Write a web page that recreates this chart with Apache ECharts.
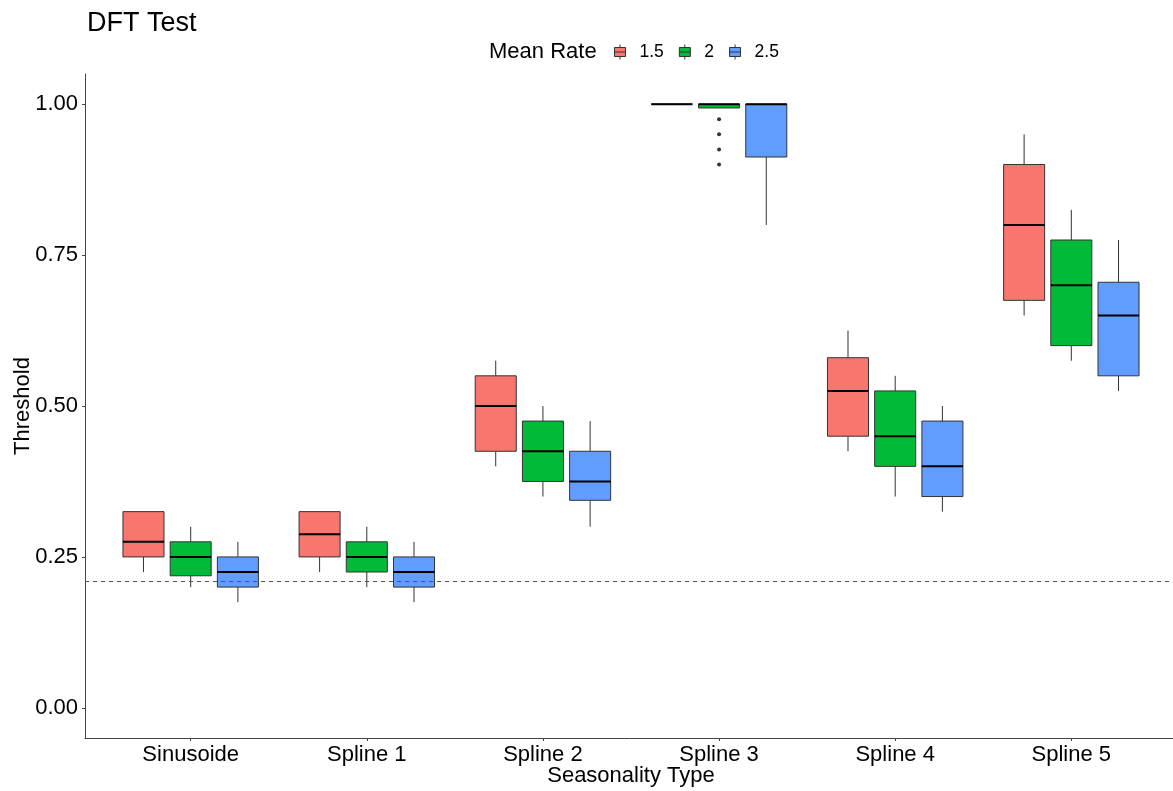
<!DOCTYPE html>
<html>
<head>
<meta charset="utf-8">
<script src="https://cdn.jsdelivr.net/npm/echarts@6/dist/echarts.min.js"></script>
<style>
html,body{margin:0;padding:0;background:#fff;}
#chart{width:1173px;height:791px;}
</style>
</head>
<body>
<div id="chart"></div>
<script>
// ---- data ----
const categories = ['Sinusoide', 'Spline 1', 'Spline 2', 'Spline 3', 'Spline 4', 'Spline 5'];
const rates = ['1.5', '2', '2.5'];
// each row: [lower whisker, Q1, median, Q3, upper whisker]
const rate15 = [
  [0.225, 0.25, 0.275, 0.325, 0.325],
  [0.225, 0.25, 0.2875, 0.325, 0.325],
  [0.4, 0.425, 0.5, 0.55, 0.575],
  [1, 1, 1, 1, 1],
  [0.425, 0.45, 0.525, 0.58, 0.625],
  [0.65, 0.675, 0.8, 0.9, 0.95]
];
const rate2 = [
  [0.2, 0.21875, 0.25, 0.275, 0.3],
  [0.2, 0.225, 0.25, 0.275, 0.3],
  [0.35, 0.375, 0.425, 0.475, 0.5],
  [0.99375, 0.99375, 1, 1, 1],
  [0.35, 0.4, 0.45, 0.525, 0.55],
  [0.575, 0.6, 0.7, 0.775, 0.825]
];
const rate25 = [
  [0.175, 0.2, 0.225, 0.25, 0.275],
  [0.175, 0.2, 0.225, 0.25, 0.275],
  [0.3, 0.34375, 0.375, 0.425, 0.475],
  [0.8, 0.9125, 1, 1, 1],
  [0.325, 0.35, 0.4, 0.475, 0.5],
  [0.525, 0.55, 0.65, 0.705, 0.775]
];
// outliers: [category index, rate index, value]
const outliers = [
  [3, 1, 0.975], [3, 1, 0.95], [3, 1, 0.925], [3, 1, 0.9]
];
const threshold = 0.21;
const yTicks = [0, 0.25, 0.5, 0.75, 1];

// ---- styling ----
const colors = ['#F8766D', '#00BA38', '#619CFF'];
const offsets = [-0.268, 0, 0.268];
const BOX_W = 0.233;
const FONT = '"Liberation Sans", Arial, sans-serif';

function toRows(arr) {
  return arr.map((r, i) => [i + 1, r[0], r[1], r[2], r[3], r[4]]);
}

function makeRender(offset) {
  return function (params, api) {
    const x = api.value(0) + offset;
    const pLo = api.coord([x, api.value(1)]);
    const pQ1 = api.coord([x, api.value(2)]);
    const pMed = api.coord([x, api.value(3)]);
    const pQ3 = api.coord([x, api.value(4)]);
    const pHi = api.coord([x, api.value(5)]);
    const halfW = api.size([BOX_W, 0])[0] / 2;
    const fill = api.visual('color');
    const cx = pQ1[0];
    return {
      type: 'group',
      children: [
        { type: 'line', shape: { x1: cx, y1: pQ3[1], x2: cx, y2: pHi[1] },
          style: { stroke: '#333', lineWidth: 1 } },
        { type: 'line', shape: { x1: cx, y1: pQ1[1], x2: cx, y2: pLo[1] },
          style: { stroke: '#333', lineWidth: 1 } },
        { type: 'rect', shape: { x: cx - halfW, y: pQ3[1], width: halfW * 2, height: pQ1[1] - pQ3[1] },
          style: { fill: fill, stroke: '#333', lineWidth: 1 } },
        { type: 'line', shape: { x1: cx - halfW, y1: pMed[1], x2: cx + halfW, y2: pMed[1] },
          style: { stroke: '#000', lineWidth: 2 } }
      ]
    };
  };
}

const seriesData = [rate15, rate2, rate25];
const series = rates.map((name, k) => ({
  name: name,
  type: 'custom',
  renderItem: makeRender(offsets[k]),
  itemStyle: { color: colors[k] },
  encode: { x: 0, y: [1, 2, 3, 4, 5] },
  data: toRows(seriesData[k]),
  z: 3
}));

series.push({
  name: 'outliers',
  type: 'scatter',
  symbolSize: 4,
  itemStyle: { color: '#000' },
  data: outliers.map(o => [o[0] + 1 + offsets[o[1]], o[2]]),
  z: 4,
  markLine: {
    silent: true,
    symbol: ['none', 'none'],
    label: { show: false },
    lineStyle: { color: '#555', width: 1, type: [4, 4] },
    data: [{ yAxis: threshold }]
  }
});

const legendIcon = 'path://M5.5,0L5.5,3M0,3L11,3L11,12L0,12ZM0,7.5L11,7.5M5.5,12L5.5,15';

const option = {
  animation: false,
  backgroundColor: '#fff',
  title: [
    { text: 'DFT Test', left: 82, top: 5,
      textStyle: { fontFamily: FONT, fontSize: 27, fontWeight: 'normal', color: '#000' } },
    { text: 'Mean Rate', left: 484, top: 36,
      textStyle: { fontFamily: FONT, fontSize: 22, fontWeight: 'normal', color: '#000' } }
  ],
  legend: {
    left: 609, top: 38,
    itemWidth: 11, itemHeight: 15, itemGap: 15,
    textStyle: { fontFamily: FONT, fontSize: 17.5, color: '#000', padding: [0, 0, 0, 9] },
    data: rates.map((r, k) => ({
      name: r, icon: legendIcon,
      itemStyle: { color: colors[k], borderColor: '#333', borderWidth: 1 }
    }))
  },
  grid: { left: 85, top: 74, width: 1092, height: 664, containLabel: false, outerBoundsMode: 'none' },
  xAxis: {
    type: 'value', min: 0.4, max: 6.6,
    name: 'Seasonality Type', nameLocation: 'middle', nameGap: 27, nameMoveOverlap: false,
    nameTextStyle: { fontFamily: FONT, fontSize: 22, color: '#000', verticalAlign: 'top' },
    axisLine: { show: true, onZero: false, lineStyle: { color: '#444', width: 1 } },
    axisTick: { show: true, length: 3, lineStyle: { color: '#444' }, customValues: [1, 2, 3, 4, 5, 6] },
    axisLabel: {
      customValues: [1, 2, 3, 4, 5, 6],
      formatter: v => categories[Math.round(v) - 1] || '',
      fontFamily: FONT, fontSize: 22, color: '#000', margin: 6
    },
    splitLine: { show: false }
  },
  yAxis: {
    type: 'value', min: -0.05, max: 1.05,
    name: 'Threshold', nameLocation: 'middle', nameGap: 51, nameMoveOverlap: false,
    nameTextStyle: { fontFamily: FONT, fontSize: 22, color: '#000' },
    axisLine: { show: true, onZero: false, lineStyle: { color: '#444', width: 1 } },
    axisTick: { show: true, length: 3, lineStyle: { color: '#444' }, customValues: yTicks },
    axisLabel: {
      customValues: yTicks,
      formatter: v => Number(v).toFixed(2),
      fontFamily: FONT, fontSize: 22, color: '#000', margin: 7
    },
    splitLine: { show: false }
  },
  series: series
};

const chart = echarts.init(document.getElementById('chart'), null, { renderer: 'canvas' });
chart.setOption(option);
</script>
</body>
</html>
